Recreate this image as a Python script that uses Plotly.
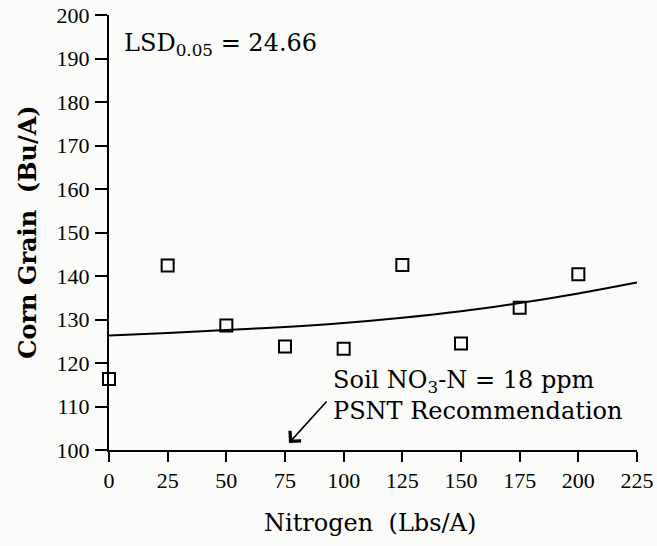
import plotly.graph_objects as go

# Data
nitrogen = [0, 25, 50, 75, 100, 125, 150, 175, 200]
grain = [116.3, 142.4, 128.6, 123.8, 123.3, 142.5, 124.5, 132.7, 140.4]

fit_x = [0, 25, 50, 75, 100, 125, 150, 175, 200, 225]
fit_y = [126.3, 126.9, 127.6, 128.3, 129.2, 130.4, 131.9, 133.8, 136.0, 138.5]

x_ticks = [0, 25, 50, 75, 100, 125, 150, 175, 200, 225]
y_ticks = [100, 110, 120, 130, 140, 150, 160, 170, 180, 190, 200]

SERIF = "DejaVu Serif"
TICKFONT = "Liberation Serif"

fig = go.Figure()
fig.add_trace(go.Scatter(
    x=fit_x, y=fit_y, mode="lines",
    line=dict(color="black", width=2, shape="spline"),
    cliponaxis=False, showlegend=False, hoverinfo="skip"))
fig.add_trace(go.Scatter(
    x=nitrogen, y=grain, mode="markers",
    marker=dict(symbol="square-open", size=12, color="black",
                line=dict(color="black", width=2)),
    cliponaxis=False, showlegend=False))

fig.update_layout(
    width=657, height=546,
    margin=dict(l=109, r=20, t=15, b=96),
    paper_bgcolor="#fbfbf9", plot_bgcolor="#fbfbf9",
    showlegend=False,
    xaxis=dict(range=[0, 225], tickvals=x_ticks,
               ticktext=[str(v) for v in x_ticks],
               showline=True, linecolor="black", linewidth=2,
               ticks="outside", ticklen=10, tickwidth=2, tickcolor="black",
               showgrid=False, zeroline=False, ticklabelstandoff=0,
               automargin=False,
               tickfont=dict(family=TICKFONT, size=22, color="black")),
    yaxis=dict(range=[100, 200], tickvals=y_ticks,
               ticktext=[str(v) for v in y_ticks],
               showline=True, linecolor="black", linewidth=2,
               ticks="outside", ticklen=12, tickwidth=2, tickcolor="black",
               showgrid=False, zeroline=False, ticklabelstandoff=1,
               automargin=False,
               tickfont=dict(family=TICKFONT, size=22, color="black")),
    annotations=[
        dict(x=-0.155, y=0.5, xref="paper", yref="paper",
             text="<b>Corn Grain  (Bu/A)</b>", textangle=-90,
             showarrow=False, xanchor="center", yanchor="middle",
             font=dict(family=SERIF, size=24, color="black")),
        dict(x=0.494, y=-0.168, xref="paper", yref="paper",
             text="Nitrogen  (Lbs/A)", showarrow=False,
             xanchor="center", yanchor="middle",
             font=dict(family=SERIF, size=24, color="black")),
        dict(x=5.5, y=193.2, xref="x", yref="y",
             text="LSD<sub>0.05</sub> = 24.66", showarrow=False,
             xanchor="left", yanchor="middle",
             font=dict(family=SERIF, size=24, color="black")),
        dict(x=94.5, y=115.8, xref="x", yref="y",
             text="Soil NO<sub>3</sub>-N = 18 ppm", showarrow=False,
             xanchor="left", yanchor="middle",
             font=dict(family=SERIF, size=24, color="black")),
        dict(x=94.5, y=108.9, xref="x", yref="y",
             text="PSNT Recommendation", showarrow=False,
             xanchor="left", yanchor="middle",
             font=dict(family=SERIF, size=24, color="black")),
        dict(x=76.7, y=101.6, xref="x", yref="y",
             ax=93.3, ay=111.5, axref="x", ayref="y",
             text="", showarrow=True, arrowhead=4, arrowsize=1.8,
             arrowwidth=1.6, arrowcolor="black"),
    ],
)

fig.write_html("out.html",
               config={"displayModeBar": False},
               post_script="document.body.style.margin='0';document.body.style.overflow='hidden';")
